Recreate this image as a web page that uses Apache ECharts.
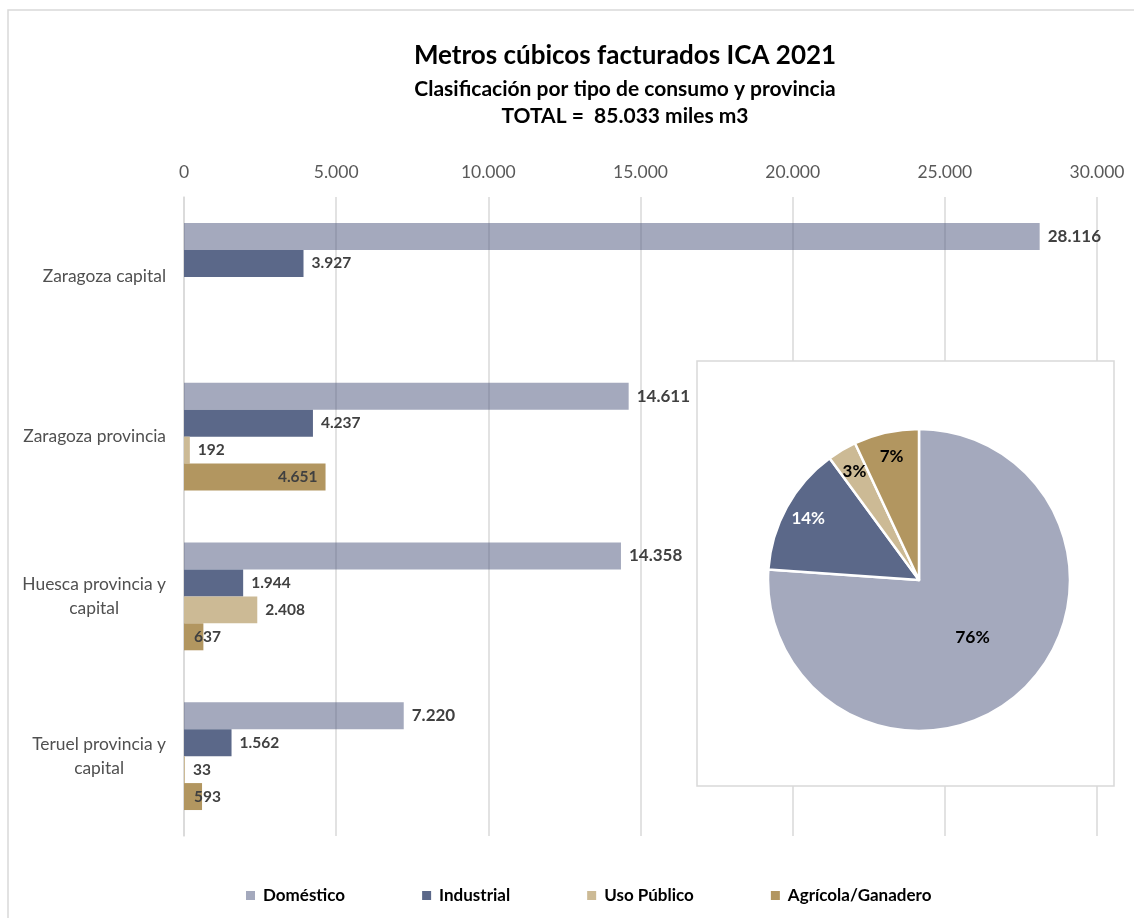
<!DOCTYPE html>
<html>
<head>
<meta charset="utf-8">
<script src="https://cdn.jsdelivr.net/npm/echarts@6/dist/echarts.min.js"></script>
<style>
  html, body { margin: 0; padding: 0; background: #fff; }
  #chart { width: 1134px; height: 918px; }
</style>
</head>
<body>
<div id="chart"></div>
<script>
const provincias = ['Zaragoza capital', 'Zaragoza provincia', 'Huesca provincia y\ncapital', 'Teruel provincia y\ncapital'];
const tipos = ['Doméstico', 'Industrial', 'Uso Público', 'Agrícola/Ganadero'];
const domestico = [28116, 14611, 14358, 7220];
const industrial = [3927, 4237, 1944, 1562];
const usoPublico = [null, 192, 2408, 33];
const agricola = [null, 4651, 637, 593];
const totalTipos = [64305, 11670, 2633, 5881];
const xTicks = [0, 5000, 10000, 15000, 20000, 25000, 30000];

const colores = ['rgba(73,83,123,0.5)', '#5B6889', '#CCBA95', '#B29660'];
const piePalette = ['#A4A9BD', '#5B6889', '#CCBA95', '#B29660'];
const FONT = 'Lato, "Liberation Sans", sans-serif';

// 28116 -> "28.116"
function miles(v) {
  return String(Math.round(v)).replace(/\B(?=(\d{3})+(?!\d))/g, '.');
}

const chart = echarts.init(document.getElementById('chart'), null, { renderer: 'canvas' });

function barSeries(name, data, idx, labelSize) {
  return {
    name: name,
    type: 'bar',
    barGap: 0,
    barCategoryGap: '32.5%',
    itemStyle: { color: colores[idx] },
    label: {
      show: true,
      position: 'right',
      distance: 8,
      color: '#404040',
      fontFamily: FONT,
      fontWeight: 'bold',
      fontSize: labelSize,
      formatter: (p) => miles(p.value)
    },
    data: data
  };
}

// etiquetas de Agrícola: dentro al final si la barra es larga
const agricolaData = agricola.map((v) => {
  if (v == null) return null;
  return {
    value: v,
    label: v > 1000
      ? { position: 'insideRight', distance: 8 }
      : { position: 'insideLeft', distance: 10 }
  };
});

const option = {
  backgroundColor: '#fff',
  textStyle: { fontFamily: FONT },
  graphic: [
    {
      type: 'rect', z: 0, silent: true,
      shape: { x: 8, y: 10, width: 1200, height: 1000 },
      style: { fill: 'none', stroke: '#D9D9D9', lineWidth: 1.5 }
    },
    {
      type: 'rect', z: 1, silent: true,
      shape: { x: 697, y: 361, width: 417, height: 425 },
      style: { fill: '#fff', stroke: '#D9D9D9', lineWidth: 1.5 }
    },
    {
      type: 'text', z: 3, x: 625, y: 56,
      style: { text: 'Metros cúbicos facturados ICA 2021', textAlign: 'center', textVerticalAlign: 'middle',
        font: 'bold 26px ' + FONT, fill: '#000' }
    },
    {
      type: 'text', z: 3, x: 625, y: 89,
      style: { text: 'Clasificación por tipo de consumo y provincia', textAlign: 'center', textVerticalAlign: 'middle',
        font: 'bold 21px ' + FONT, fill: '#000' }
    },
    {
      type: 'text', z: 3, x: 625, y: 116,
      style: { text: 'TOTAL =  85.033 miles m3', textAlign: 'center', textVerticalAlign: 'middle',
        font: 'bold 21px ' + FONT, fill: '#000' }
    }
  ],
  legend: {
    top: 882,
    left: 241,
    itemWidth: 9,
    itemHeight: 9,
    itemGap: 77,
    icon: 'rect',
    data: tipos,
    textStyle: { color: '#000', fontSize: 17, fontWeight: 'bold', fontFamily: FONT, padding: [0, 0, 0, 3] }
  },
  grid: { left: 184, right: 37, top: 197, bottom: 82 },
  xAxis: {
    type: 'value',
    position: 'top',
    min: xTicks[0],
    max: xTicks[xTicks.length - 1],
    interval: 5000,
    axisLine: { show: false },
    axisTick: { show: false },
    axisLabel: {
      color: '#595959', fontSize: 17.5, margin: 16, fontFamily: FONT,
      formatter: (v) => miles(v)
    },
    splitLine: { lineStyle: { color: '#D9D9D9', width: 1.5 } }
  },
  yAxis: {
    type: 'category',
    inverse: true,
    data: provincias,
    axisLine: { show: true, lineStyle: { color: '#D9D9D9', width: 1.5 } },
    axisTick: { show: false },
    axisLabel: {
      margin: 18,
      color: '#595959',
      fontSize: 17.4,
      fontFamily: FONT,
      lineHeight: 24,
      formatter: (v) => v.split('\n').map((s) => '{c|' + s + '}').join('\n'),
      rich: { c: { align: 'center', fontSize: 17.4, color: '#505050', fontFamily: FONT, lineHeight: 24 } }
    }
  },
  series: [
    barSeries(tipos[0], domestico, 0, 17),
    barSeries(tipos[1], industrial, 1, 15.5),
    barSeries(tipos[2], usoPublico, 2, 15.5),
    barSeries(tipos[3], agricolaData, 3, 15.5),
    {
      name: 'Total',
      type: 'pie',
      center: [919, 580],
      radius: [0, 151],
      startAngle: 90,
      clockwise: true,
      silent: true,
      itemStyle: { borderColor: '#fff', borderWidth: 2.5 },
      color: piePalette,
      label: {
        show: true,
        position: 'inside',
        fontFamily: FONT,
        fontWeight: 'bold',
        fontSize: 17.5,
        formatter: (p) => (p.dataIndex === 0 ? Math.round(p.percent) + '%' : '')
      },
      labelLine: { show: false },
      data: tipos.map((n, i) => ({ name: n, value: totalTipos[i], label: { color: '#000' } }))
    },
    {
      // capa transparente solo para colocar las etiquetas de los sectores pequeños cerca del borde
      name: 'Etiquetas',
      type: 'pie',
      center: [919, 580],
      radius: [96, 151],
      startAngle: 90,
      clockwise: true,
      silent: true,
      z: 3,
      itemStyle: { color: 'rgba(0,0,0,0)' },
      label: {
        show: true,
        position: 'inside',
        fontFamily: FONT,
        fontWeight: 'bold',
        fontSize: 17,
        formatter: (p) => (p.dataIndex === 0 ? '' : Math.round(p.percent) + '%')
      },
      labelLine: { show: false },
      data: tipos.map((n, i) => ({
        name: n, value: totalTipos[i],
        label: { color: i === 1 ? '#fff' : '#000' }
      }))
    }
  ]
};

chart.setOption(option);
</script>
</body>
</html>
